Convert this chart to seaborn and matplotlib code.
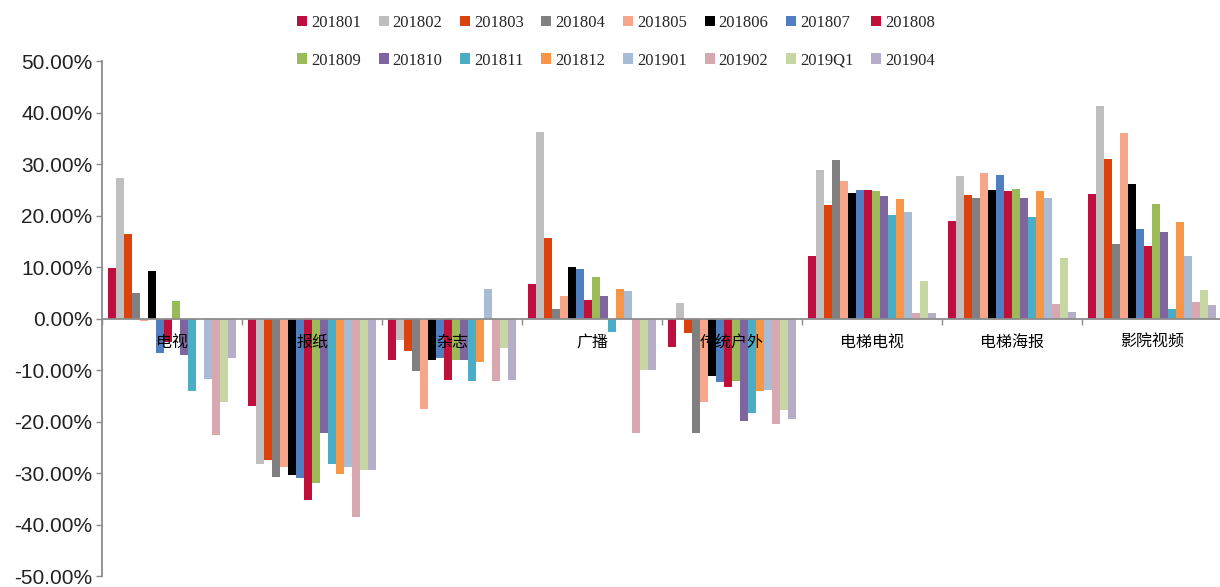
import matplotlib
matplotlib.use("Agg")
import matplotlib.pyplot as plt
import pandas as pd
import seaborn as sns
from matplotlib.ticker import FuncFormatter, FixedLocator

# 媒体类别
categories = ["电视", "报纸", "杂志", "广播", "传统户外", "电梯电视", "电梯海报", "影院视频"]

# 月份（系列）
periods = ["201801", "201802", "201803", "201804", "201805", "201806", "201807", "201808",
           "201809", "201810", "201811", "201812", "201901", "201902", "2019Q1", "201904"]

# 各月份在各媒体上的增速（%）
v201801 = [9.8, -16.9, -8.0, 6.7, -5.6, 12.2, 19.0, 24.1]
v201802 = [27.2, -28.2, -4.2, 36.2, 3.0, 28.9, 27.7, 41.2]
v201803 = [16.5, -27.4, -6.3, 15.7, -2.9, 22.1, 23.9, 31.0]
v201804 = [4.9, -30.8, -10.1, 1.8, -22.3, 30.8, 23.5, 14.4]
v201805 = [-0.5, -28.8, -17.5, 4.4, -16.2, 26.7, 28.3, 36.1]
v201806 = [9.2, -30.4, -8.0, 10.1, -11.2, 24.4, 24.9, 26.2]
v201807 = [-6.7, -31.0, -7.6, 9.7, -12.4, 24.9, 27.8, 17.4]
v201808 = [-4.6, -35.2, -11.9, 3.6, -13.3, 24.9, 24.7, 14.1]
v201809 = [3.5, -31.9, -8.1, 8.0, -12.1, 24.7, 25.2, 22.2]
v201810 = [-7.0, -22.2, -8.1, 4.4, -19.8, 23.8, 23.5, 16.9]
v201811 = [-14.1, -28.2, -12.2, -2.6, -18.3, 20.2, 19.8, 1.8]
v201812 = [0.0, -30.2, -8.5, 5.8, -14.1, 23.3, 24.7, 18.7]
v201901 = [-11.8, -28.8, 5.8, 5.3, -13.8, 20.7, 23.5, 12.2]
v201902 = [-22.6, -38.6, -12.2, -22.3, -20.4, 1.0, 2.9, 3.2]
v2019q1 = [-16.3, -29.5, -5.7, -9.9, -17.8, 7.3, 11.7, 5.5]
v201904 = [-7.6, -29.5, -11.9, -9.9, -19.5, 1.0, 1.2, 2.7]

all_values = [v201801, v201802, v201803, v201804, v201805, v201806, v201807, v201808,
              v201809, v201810, v201811, v201812, v201901, v201902, v2019q1, v201904]

colors = ["#BE1040", "#BFBFBF", "#DC420C", "#808080", "#F7A68C", "#000000", "#4F7FC0", "#C0103A",
          "#9BBB59", "#7F65A0", "#4BACC6", "#F79646", "#A8BCD6", "#D8A8B0", "#C6D7A4", "#B6ADC8"]

# 整理成长表
rows = []
for period, vals in zip(periods, all_values):
    for cat, v in zip(categories, vals):
        rows.append({"媒体": cat, "月份": period, "增速": v})
df = pd.DataFrame(rows)

sns.set_style("white")
plt.rcParams["font.family"] = ["Liberation Sans", "Noto Sans CJK SC", "DejaVu Sans"]

fig = plt.figure(figsize=(12.2, 5.87), dpi=100)
ax = fig.add_axes([0.0836, 0.0187, 0.918, 0.8773])

sns.barplot(data=df, x="媒体", y="增速", hue="月份", order=categories, hue_order=periods,
            palette=colors, width=0.92, ax=ax, saturation=1, linewidth=0, errorbar=None)

ax.set_ylim(-50, 50)
ax.set_xlim(-0.5, len(categories) - 0.5)
ax.set_xlabel("")
ax.set_ylabel("")

# 坐标轴样式
ax.spines["top"].set_visible(False)
ax.spines["right"].set_visible(False)
ax.spines["bottom"].set_position(("data", 0))
for s in ["left", "bottom"]:
    ax.spines[s].set_color("#8c8c8c")
    ax.spines[s].set_linewidth(1.3)
ax.set_axisbelow(False)

ax.set_yticks(range(-50, 51, 10))
ax.yaxis.set_major_formatter(FuncFormatter(lambda v, p: f"{v:.2f}%"))
ax.tick_params(axis="y", direction="out", length=4, color="#8c8c8c", width=1,
               labelsize=15, labelcolor="#222222", pad=3, left=True)

ax.tick_params(axis="x", which="major", length=0, pad=11, labelsize=11.5, labelcolor="black")
ax.xaxis.set_minor_locator(FixedLocator([i - 0.5 for i in range(len(categories) + 1)]))
ax.tick_params(axis="x", which="minor", direction="out", length=4, color="#8c8c8c",
               width=1, bottom=True)
for lab in ax.get_xticklabels():
    lab.set_family(["Noto Sans CJK SC", "DejaVu Sans"])

# 图例放在顶部两行（按行排列）
handles, labels = ax.get_legend_handles_labels()
ax.legend_.remove()
order = []
for i in range(8):
    order += [i, i + 8]
fig.legend([handles[i] for i in order], [labels[i] for i in order],
           loc="upper center", bbox_to_anchor=(0.505, 1.0), ncol=8,
           frameon=False, prop={"family": "Liberation Serif", "size": 12},
           handlelength=0.6, handleheight=0.6, handletextpad=0.25, columnspacing=1.05,
           labelspacing=1.3)

fig.savefig("out.png", dpi=100)
